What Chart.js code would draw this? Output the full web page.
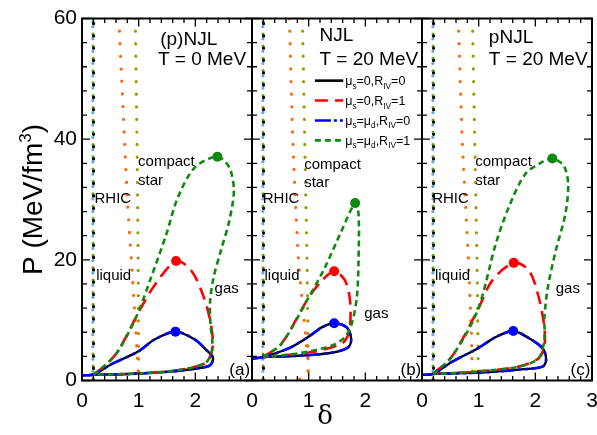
<!DOCTYPE html>
<html>
<head>
<meta charset="utf-8">
<script src="https://cdn.jsdelivr.net/npm/chart.js@4.4.1/dist/chart.umd.min.js"></script>
<style>
  html, body { margin: 0; padding: 0; background: #fff; }
  canvas { display: block; }
</style>
</head>
<body>
<canvas id="chart" width="597" height="435"></canvas>
<script>
// panels: (a) (p)NJL T=0, (b) NJL T=20, (c) pNJL T=20 -- each spans delta 0..3
const panelShift = [0, 3, 6];

// mu_s=0,R_IV=0 (black) and mu_s=mu_d,R_IV=0 (blue) nearly coincide
const riv0A = [[0,0.85],[0.2,1.0],[0.52,2.7],[0.99,4.8],[1.28,6.8],[1.65,8.1],[1.99,6.8],[2.2,5.0],[2.31,3.8],[2.27,2.6],[2.16,2.2],[1.69,1.6],[1.1,1.2],[0.52,1.0],[0.2,1.0]];
const riv0B = [[0,3.6],[0.2,3.9],[0.64,5.3],[0.99,7.2],[1.23,8.8],[1.45,9.5],[1.67,8.8],[1.75,6.9],[1.7,5.5],[1.41,4.6],[0.82,4.1],[0.2,3.9]];
const riv0C = [[0,0.95],[0.2,1.1],[0.53,3.1],[0.98,5.3],[1.3,7.2],[1.61,8.2],[1.89,7.0],[2.13,5.3],[2.19,3.4],[2.13,2.3],[1.71,1.8],[1.12,1.35],[0.5,1.15],[0.2,1.1]];

// mu_s=0,R_IV=1 (red)
const riv1A = [[0.2,1.0],[0.32,1.8],[0.61,4.5],[0.96,10.6],[1.26,15.5],[1.66,19.8],[1.93,18.2],[2.13,14.3],[2.25,10.5],[2.31,6.6],[2.28,4.4],[2.16,2.8],[1.69,1.7],[1.1,1.2],[0.52,1.0],[0.2,1.0]];
const riv1B = [[0.2,3.9],[0.52,6.1],[0.99,13.6],[1.23,16.5],[1.45,18.1],[1.64,16.6],[1.73,13.2],[1.73,8.8],[1.68,7.2],[1.58,6.1],[1.11,4.8],[0.5,4.1],[0.2,3.9]];
const riv1C = [[0.2,1.1],[0.53,4.0],[0.98,11.6],[1.24,16.6],[1.62,19.5],[1.89,18.2],[2.06,13.8],[2.16,8.8],[2.16,5.8],[2.06,3.7],[1.71,2.3],[1.12,1.6],[0.5,1.2],[0.2,1.1]];

// mu_s=mu_d,R_IV=1 (green)
const strangeA = [[0.2,1.0],[0.32,1.8],[0.61,4.5],[0.96,10.6],[1.22,17.1],[1.49,24.3],[1.69,30.3],[1.99,35.3],[2.39,37.1],[2.6,35.3],[2.68,31.5],[2.6,26.5],[2.45,21.5],[2.32,17],[2.26,13],[2.27,9],[2.3,6.6],[2.28,4.4],[2.16,2.8],[1.69,1.7],[1.1,1.2],[0.52,1.0],[0.2,1.0]];
const strangeB = [[0.2,3.9],[0.52,6.1],[0.99,13.6],[1.29,18.8],[1.58,24.8],[1.82,29.4],[1.88,27.6],[1.88,19.9],[1.85,13.8],[1.76,9.4],[1.64,7.2],[1.41,5.8],[0.82,4.5],[0.2,3.9]];
const strangeC = [[0.2,1.1],[0.53,4.0],[0.98,11.6],[1.3,22.6],[1.53,28.7],[1.82,34.2],[2.1,36.1],[2.3,36.8],[2.5,35.6],[2.58,32.6],[2.53,27.6],[2.36,21.5],[2.22,15.4],[2.16,10.4],[2.16,6.9],[2.06,3.7],[1.71,2.3],[1.12,1.6],[0.5,1.2],[0.2,1.1]];

// critical points [delta, P] per panel
const critRiv0 = [[1.65,8.1],[1.45,9.5],[1.61,8.2]];
const critRiv1 = [[1.66,19.8],[1.45,18.1],[1.62,19.5]];
const critStrange = [[2.39,37.1],[1.82,29.4],[2.3,36.8]];

// isentropic / matter lines
const rhicLine = [[0.2,0],[0.2,60]];
const orangeA = [[0.65,60],[0.7,50],[0.75,40],[0.8,30],[0.87,20],[0.94,10],[0.97,5],[1.0,0]];
const orangeB = [[0.66,60],[0.72,40],[0.82,20],[0.92,10],[0.98,4],[0.99,1.5],[0.9,0.4],[0.67,0]];
const orangeC = [[0.64,60],[0.71,40],[0.82,20],[0.87,8],[0.89,0]];
const oliveA = [[0.94,60],[0.97,40],[0.99,20],[1.0,1]];
const oliveB = [[0.89,60],[0.93,40],[0.97,20],[0.99,5],[0.99,0]];
const oliveC = [[0.89,60],[0.93,40],[0.97,20],[0.99,5],[0.99,1]];

const yTicks = [0, 20, 40, 60];
const panelTitles = [["(p)NJL", "T = 0 MeV"], ["NJL", "T = 20 MeV"], ["pNJL", "T = 20 MeV"]];
const panelTags = ["(a)", "(b)", "(c)"];

const FONT = "'Liberation Sans', Arial, sans-serif";
const GREEN = "#0f8a0f";
const BLUE_DASH = [13, 4, 3, 4, 3, 4];

function pts(arr, p, dx) {
  return arr.map(([d, P]) => ({ x: d + panelShift[p] + (dx || 0), y: P }));
}

function curve(data, color, dash, width, order) {
  return {
    data, showLine: true, borderColor: color, backgroundColor: color,
    borderWidth: width, borderDash: dash, pointRadius: 0, tension: 0.3,
    fill: false, order
  };
}

function dotted(data, color, gap, offset, order) {
  return {
    data, showLine: true, borderColor: color, borderWidth: 3.2,
    borderDash: [0.1, gap], borderDashOffset: offset, borderCapStyle: "round",
    pointRadius: 0, tension: 0.2, fill: false, order
  };
}

const datasets = [];
const orangeLines = [orangeA, orangeB, orangeC];
const oliveLines = [oliveA, oliveB, oliveC];
const riv0 = [riv0A, riv0B, riv0C];
const riv1 = [riv1A, riv1B, riv1C];
const strange = [strangeA, strangeB, strangeC];

for (let p = 0; p < 3; p++) {
  datasets.push(dotted(pts(rhicLine, p, -0.008), "#6aa6e0", 12.2, 3, 9));
  datasets.push(dotted(pts(rhicLine, p, -0.004), "#5aa51a", 12.2, -2, 8));
  datasets.push(dotted(pts(rhicLine, p, 0.004), "#000", 12.2, 0, 7));
  datasets.push(dotted(pts(orangeLines[p], p), "#ff6a10", 12.5, 0, 6));
  datasets.push(dotted(pts(oliveLines[p], p), "#9c9c00", 12.5, 0, 6));
  datasets.push(curve(pts(riv0[p], p), "#000", [], 2.4, 5));
  datasets.push(curve(pts(riv1[p], p), "#ff0000", [13, 7], 2.6, 4));
  datasets.push(curve(pts(riv0[p], p), "#0000ff", BLUE_DASH, 2.6, 3));
  datasets.push(curve(pts(strange[p], p), GREEN, [6, 4], 2.6, 2));
  [[critRiv0, "#0000ff"], [critRiv1, "#ff0000"], [critStrange, GREEN]].forEach(([c, col]) => {
    datasets.push({
      data: pts([c[p]], p), showLine: false, pointRadius: 5, pointHoverRadius: 5,
      pointBackgroundColor: col, pointBorderColor: col, borderWidth: 0, order: 0
    });
  });
}

function richText(ctx, parts, x, y, size) {
  let cx = x;
  parts.forEach(([t, sub]) => {
    ctx.font = (sub ? size * 0.66 : size) + "px " + FONT;
    ctx.fillText(t, cx, sub ? y + size * 0.28 : y);
    cx += ctx.measureText(t).width;
  });
}

const framePlugin = {
  id: "frame",
  afterDatasetsDraw(chart) {
    const { ctx, chartArea: a, scales: { x, y } } = chart;
    ctx.save();
    ctx.strokeStyle = "#000";
    ctx.lineWidth = 2;
    ctx.strokeRect(a.left, a.top, a.right - a.left, a.bottom - a.top);
    [3, 6].forEach(v => {
      const px = x.getPixelForValue(v);
      ctx.beginPath(); ctx.moveTo(px, a.top); ctx.lineTo(px, a.bottom); ctx.stroke();
    });
    ctx.lineWidth = 1.3;
    ctx.beginPath();
    for (let k = 0; k <= 45; k++) {
      const px = x.getPixelForValue(k * 0.2);
      const len = k % 5 === 0 ? 8 : 4.5;
      ctx.moveTo(px, a.bottom); ctx.lineTo(px, a.bottom - len);
      ctx.moveTo(px, a.top); ctx.lineTo(px, a.top + len);
    }
    [0, 3, 6, 9].forEach(v => {
      const px = x.getPixelForValue(v);
      for (let P = 0; P <= 60; P += 4) {
        const py = y.getPixelForValue(P);
        const len = P % 20 === 0 ? 8 : 5;
        if (v < 9) { ctx.moveTo(px, py); ctx.lineTo(px + len, py); }
        if (v > 0) { ctx.moveTo(px, py); ctx.lineTo(px - len, py); }
      }
    });
    ctx.stroke();
    ctx.restore();
  },
  afterDraw(chart) {
    const { ctx, chartArea: a, scales: { x, y } } = chart;
    const X = v => x.getPixelForValue(v);
    const Y = v => y.getPixelForValue(v);
    ctx.save();
    ctx.fillStyle = "#000";
    ctx.textBaseline = "alphabetic";
    ctx.textAlign = "left";

    // panel headers
    const titlePos = [[1.38, 55.6, 1.34], [4.19, 56.2, 4.19], [7.18, 55.9, 7.18]];
    titlePos.forEach(([tx, ty, tx2], p) => {
      ctx.font = "19px " + FONT;
      ctx.fillText(panelTitles[p][0], X(tx), Y(ty));
      ctx.fillText(panelTitles[p][1], X(tx2), Y(52.3));
    });

    // region labels
    ctx.font = "15px " + FONT;
    const labels = [
      ["compact", 0.99, 35.5], ["star", 0.99, 32.4], ["RHIC", 0.22, 29.4], ["liquid", 0.25, 16.7], ["gas", 2.34, 14.5],
      ["compact", 3.92, 35.0], ["star", 3.92, 32.0], ["RHIC", 3.19, 29.4], ["liquid", 3.22, 16.7], ["gas", 4.98, 10.4],
      ["compact", 6.94, 35.5], ["star", 6.94, 32.4], ["RHIC", 6.18, 29.4], ["liquid", 6.23, 16.7], ["gas", 8.36, 14.5]
    ];
    labels.forEach(([t, lx, ly]) => ctx.fillText(t, X(lx), Y(ly)));

    ctx.font = "17px " + FONT;
    [2.6, 5.62, 8.62].forEach((tx, p) => ctx.fillText(panelTags[p], X(tx), Y(0.9)));

    // legend in panel (b)
    const rows = [
      { P: 49.7, color: "#000", dash: [], parts: [["μ",0],["s",1],["=0,R",0],["IV",1],["=0",0]] },
      { P: 46.4, color: "#ff0000", dash: [13, 7], parts: [["μ",0],["s",1],["=0,R",0],["IV",1],["=1",0]] },
      { P: 43.1, color: "#0000ff", dash: [16, 3, 3, 3, 3, 3], parts: [["μ",0],["s",1],["=μ",0],["d",1],[",R",0],["IV",1],["=0",0]] },
      { P: 39.8, color: GREEN, dash: [6, 4], parts: [["μ",0],["s",1],["=μ",0],["d",1],[",R",0],["IV",1],["=1",0]] }
    ];
    rows.forEach(r => {
      const py = Y(r.P);
      ctx.strokeStyle = r.color;
      ctx.lineWidth = 2.6;
      ctx.setLineDash(r.dash);
      ctx.beginPath(); ctx.moveTo(X(4.11), py); ctx.lineTo(X(4.61), py); ctx.stroke();
      ctx.setLineDash([]);
      ctx.fillStyle = "#000";
      richText(ctx, r.parts, X(4.645), py + 4.5, 12.5);
    });

    // axis titles
    ctx.font = "26px 'DejaVu Serif', 'Liberation Serif', serif";
    ctx.textAlign = "center";
    ctx.fillText("δ", 325, 424);

    ctx.translate(42, (a.top + a.bottom) / 2);
    ctx.rotate(-Math.PI / 2);
    ctx.textAlign = "left";
    const big = "28px " + FONT, small = "17px " + FONT;
    ctx.font = big; const w1 = ctx.measureText("P (MeV/fm").width;
    ctx.font = small; const w2 = ctx.measureText("3").width;
    ctx.font = big; const w3 = ctx.measureText(")").width;
    let sx = -(w1 + w2 + w3) / 2;
    ctx.fillText("P (MeV/fm", sx, 0); sx += w1;
    ctx.font = small; ctx.fillText("3", sx, -11); sx += w2;
    ctx.font = big; ctx.fillText(")", sx, 0);
    ctx.restore();
  }
};

new Chart(document.getElementById("chart"), {
  type: "scatter",
  data: { datasets },
  options: {
    responsive: false,
    animation: false,
    devicePixelRatio: 1,
    layout: { padding: { left: 0, right: 5, top: 18.5, bottom: 0 } },
    plugins: { legend: { display: false }, tooltip: { enabled: false } },
    scales: {
      x: {
        type: "linear", min: 0, max: 9,
        grid: { display: false, drawTicks: false },
        border: { display: false },
        ticks: {
          stepSize: 1, padding: 8, color: "#000", autoSkip: false, maxRotation: 0,
          font: { family: FONT, size: 21 },
          callback: v => (v === 9 ? "3" : String(v % 3))
        },
        afterFit(s) { s.height = 54.5; s.paddingLeft = 0; s.paddingRight = 0; }
      },
      y: {
        min: 0, max: 60,
        grid: { display: false, drawTicks: false },
        border: { display: false },
        afterBuildTicks(s) { s.ticks = yTicks.map(v => ({ value: v })); },
        ticks: { padding: 5, color: "#000", font: { family: FONT, size: 21 } },
        afterFit(s) { s.width = 82; s.paddingTop = 0; s.paddingBottom = 0; }
      }
    }
  },
  plugins: [framePlugin]
});
</script>
</body>
</html>
